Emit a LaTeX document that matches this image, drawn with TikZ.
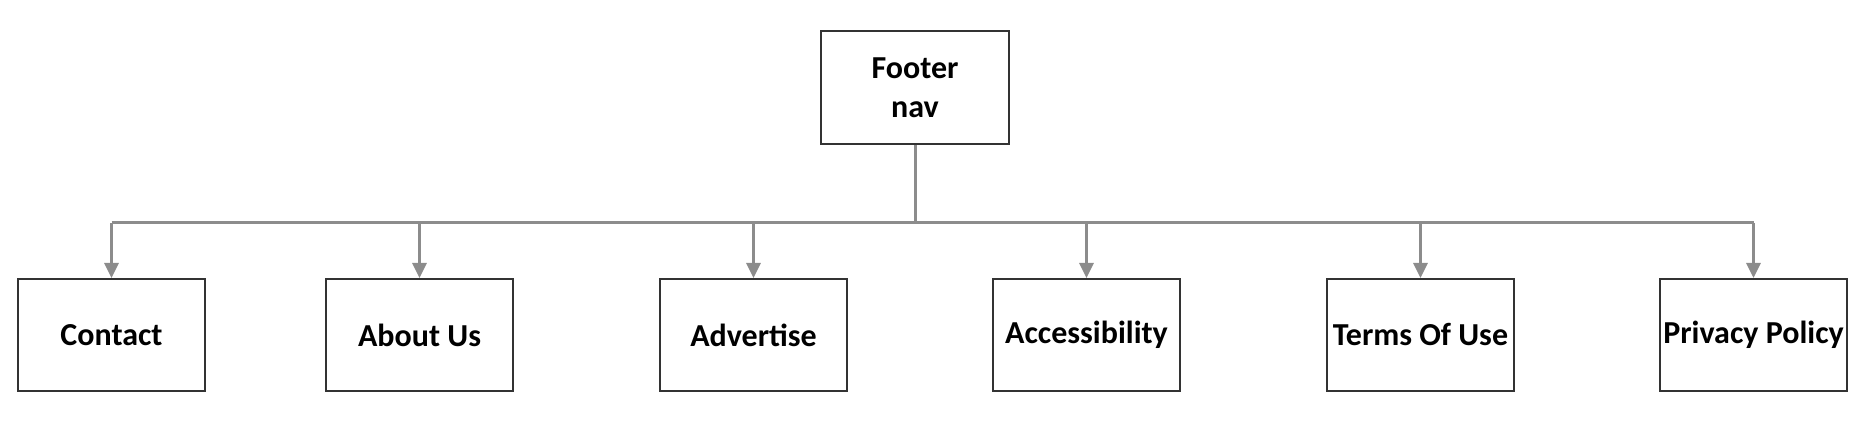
\documentclass[tikz,border=0pt]{standalone}
\usepackage{fontspec}
\setmainfont{Carlito}
\usetikzlibrary{arrows.meta}
\begin{document}
\begin{tikzpicture}[x=1pt,y=-1pt,
  box/.style={draw=black!80,line width=2pt,fill=white,minimum width=187pt,minimum height=112pt,inner sep=0pt,align=center,font=\fontsize{32}{39}\selectfont\bfseries},
  link/.style={draw=black!45,line width=3pt},
  tip/.style={link,-{Triangle[length=15pt,width=14pt]}}]
\useasboundingbox (0,0) rectangle (1871,427);
\node[box,minimum width=188pt,minimum height=113pt] (footer) at (915,87.5) {Footer\\nav};
\node[box] (contact) at (111.5,335) {Contact};
\node[box] (about) at (419.5,335) {About Us};
\node[box] (advertise) at (753.5,335) {Advertise};
\node[box] (access) at (1086.5,335) {Accessibility};
\node[box] (terms) at (1420.5,335) {Terms Of Use};
\node[box] (privacy) at (1753.5,335) {Privacy Policy};
% bus line under the footer box
\draw[link] (footer.south) -- ++(0,78) coordinate (bus);
\draw[link] (contact.north |- bus) -- (privacy.north |- bus);
\draw[tip] (contact.north |- bus) -- (contact.north);
\draw[tip] (about.north |- bus) -- (about.north);
\draw[tip] (advertise.north |- bus) -- (advertise.north);
\draw[tip] (access.north |- bus) -- (access.north);
\draw[tip] (terms.north |- bus) -- (terms.north);
\draw[tip] (privacy.north |- bus) -- (privacy.north);
\end{tikzpicture}
\end{document}
